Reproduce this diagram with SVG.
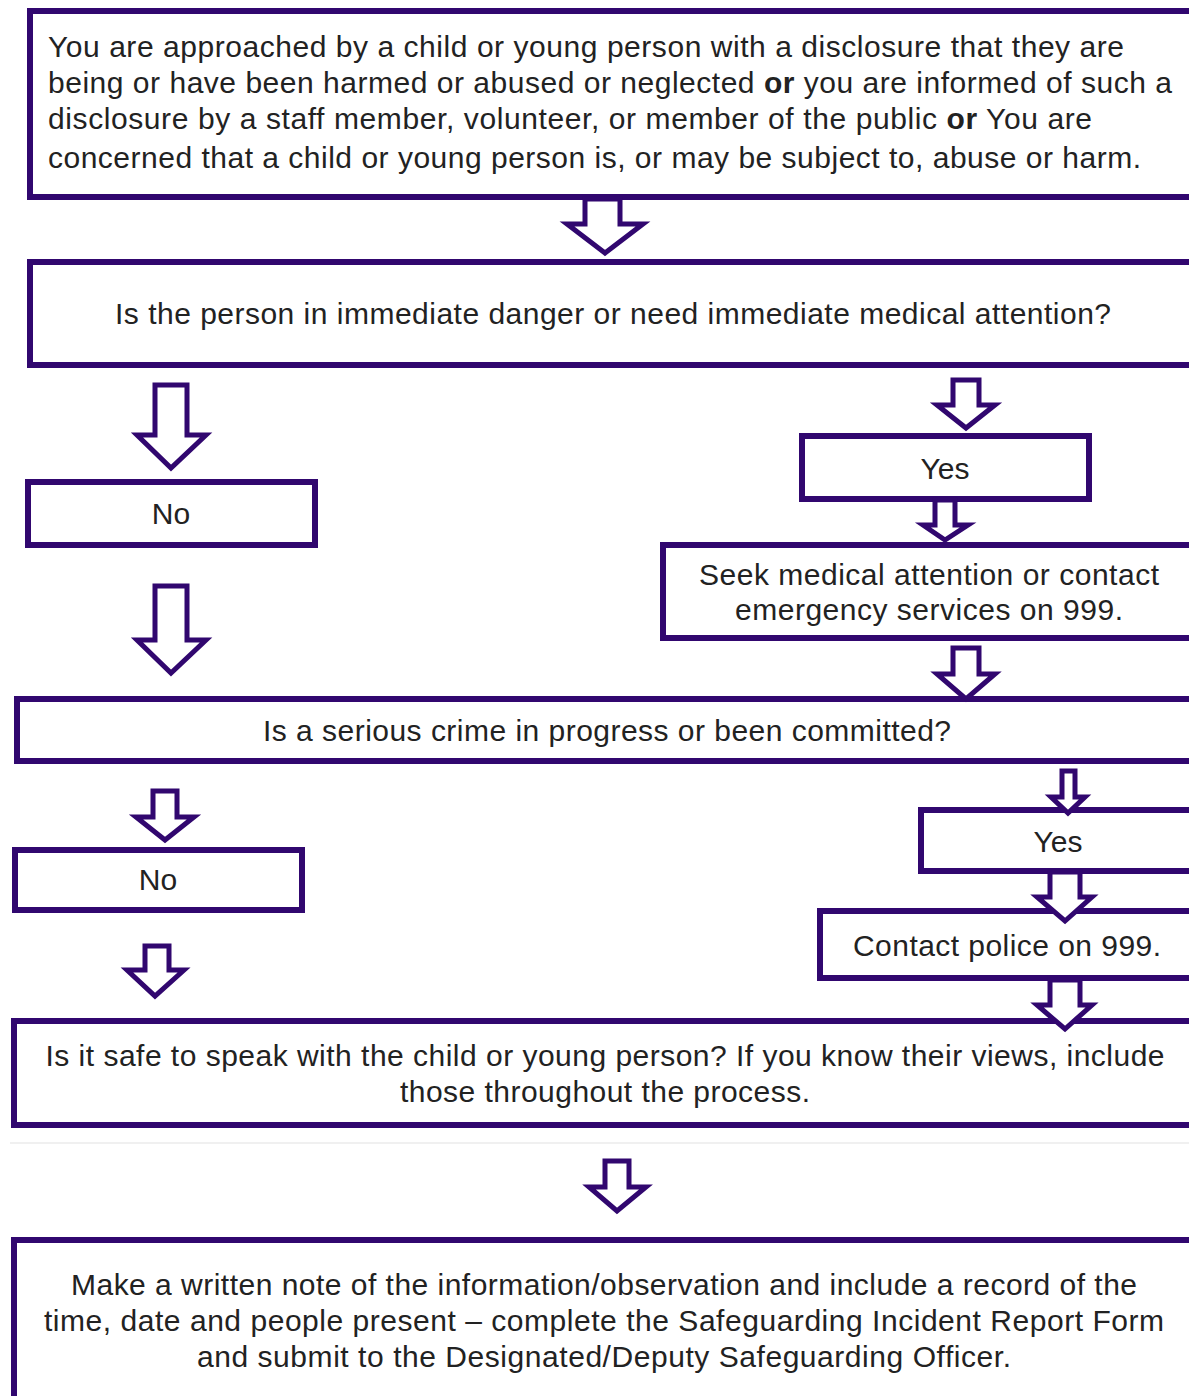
<svg xmlns="http://www.w3.org/2000/svg" width="1189" height="1396" viewBox="0 0 1189 1396">
<style>
.box{fill:#fff;stroke:#31076f;stroke-width:6}
.arr{fill:#fff;stroke:#31076f;stroke-width:5;stroke-linejoin:miter}
text{font-family:"Liberation Sans",Arial,sans-serif;font-size:30px;fill:#222}
.c{text-anchor:middle}
.b{font-weight:bold}
</style>
<rect width="1189" height="1396" fill="#fff"/>
<g id="n1"><rect class="box" x="30" y="11" width="1200" height="186"/>
<text x="48" y="57" textLength="1076">You are approached by a child or young person with a disclosure that they are</text>
<text x="48" y="93" textLength="1124">being or have been harmed or abused or neglected <tspan class="b">or</tspan> you are informed of such a</text>
<text x="48" y="129" textLength="1044">disclosure by a staff member, volunteer, or member of the public <tspan class="b">or</tspan> You are</text>
<text x="48" y="168" textLength="1093">concerned that a child or young person is, or may be subject to, abuse or harm.</text></g>
<g id="n2"><rect class="box" x="30" y="262" width="1200" height="103"/>
<text class="c" x="613" y="324" textLength="996">Is the person in immediate danger or need immediate medical attention?</text></g>
<g id="n3"><rect class="box" x="28" y="482" width="287" height="63"/>
<text class="c" x="171" y="524">No</text></g>
<g id="n4"><rect class="box" x="802" y="436" width="287" height="63"/>
<text class="c" x="945" y="479">Yes</text></g>
<g id="n5"><rect class="box" x="663" y="545" width="600" height="93"/>
<text class="c" x="929" y="585" textLength="460">Seek medical attention or contact</text>
<text class="c" x="929" y="620" textLength="388">emergency services on 999.</text></g>
<g id="n6"><rect class="box" x="17" y="699" width="1200" height="62"/>
<text class="c" x="607" y="741" textLength="688">Is a serious crime in progress or been committed?</text></g>
<g id="n7"><rect class="box" x="15" y="850" width="287" height="60"/>
<text class="c" x="158" y="890">No</text></g>
<g id="n8"><rect class="box" x="921" y="810" width="400" height="61"/>
<text class="c" x="1058" y="852">Yes</text></g>
<g id="n9"><rect class="box" x="820" y="911" width="500" height="67"/>
<text class="c" x="1007" y="956" textLength="308">Contact police on 999.</text></g>
<g id="n10"><rect class="box" x="14" y="1021" width="1200" height="104"/>
<text class="c" x="605" y="1066" textLength="1119">Is it safe to speak with the child or young person? If you know their views, include</text>
<text class="c" x="605" y="1102" textLength="410">those throughout the process.</text></g>
<line x1="10" y1="1143" x2="1189" y2="1143" stroke="#f0f0f0" stroke-width="2"/>
<g id="n11"><rect class="box" x="14" y="1240" width="1200" height="159"/>
<text class="c" x="604" y="1295" textLength="1066">Make a written note of the information/observation and include a record of the</text>
<text class="c" x="604" y="1331" textLength="1120">time, date and people present – complete the Safeguarding Incident Report Form</text>
<text class="c" x="604" y="1367" textLength="814">and submit to the Designated/Deputy Safeguarding Officer.</text></g>
<g id="connectors">
<polygon class="arr" points="585,199 620,199 620,224 643,224 605,253 567,224 585,224"/>
<polygon class="arr" points="155,385 187,385 187,435 206,435 171,468 137,435 155,435"/>
<polygon class="arr" points="953,380 979,380 979,405 995,405 966,428 937,405 953,405"/>
<polygon class="arr" points="935,500 955,500 955,525 968,525 945,540 923,525 935,525"/>
<polygon class="arr" points="155,586 187,586 187,640 206,640 171,673 137,640 155,640"/>
<polygon class="arr" points="953,648 979,648 979,674 995,674 966,699 937,674 953,674"/>
<polygon class="arr" points="1062,771 1075,771 1075,797 1085,797 1068,813 1051,797 1062,797"/>
<polygon class="arr" points="1050,872 1080,872 1080,897 1092,897 1065,921 1037,897 1050,897"/>
<polygon class="arr" points="1050,980 1080,980 1080,1005 1092,1005 1065,1029 1037,1005 1050,1005"/>
<polygon class="arr" points="153,791 177,791 177,817 194,817 165,840 136,817 153,817"/>
<polygon class="arr" points="145,946 169,946 169,970 184,970 155,996 127,970 145,970"/>
<polygon class="arr" points="605,1161 629,1161 629,1187 646,1187 617,1211 589,1187 605,1187"/>
</g>
</svg>
